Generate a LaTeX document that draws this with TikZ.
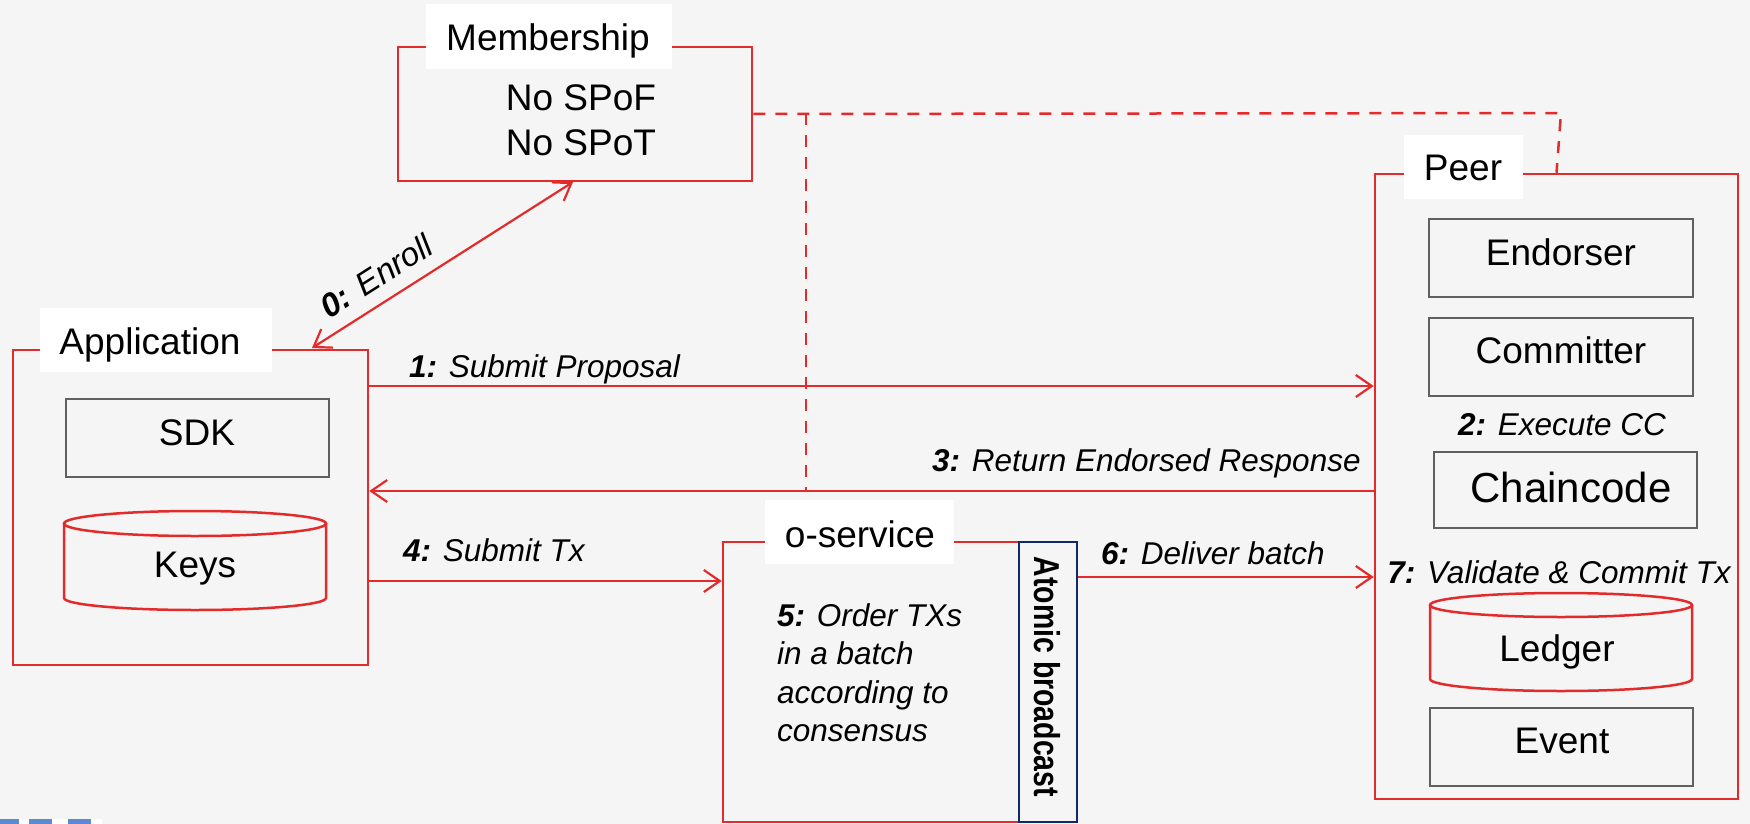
\documentclass[tikz,border=0pt]{standalone}
\usepackage{fontspec}
\setmainfont{Liberation Sans}
\usetikzlibrary{arrows.meta,calc}
\definecolor{hlred}{HTML}{E32B2B}
\definecolor{boxgray}{HTML}{606060}
\definecolor{navy}{HTML}{0F2A66}
\definecolor{bg}{HTML}{F5F5F5}
\definecolor{logoblue}{HTML}{5B8AD0}
\newcommand\fsbox{\fontsize{37}{44}\selectfont}
\newcommand\fslab{\fontsize{31.5}{38.5}\selectfont}
\newcommand\fsbig{\fontsize{42}{50}\selectfont}

\begin{document}
\begin{tikzpicture}[x=1pt,y=-1pt,
  redbox/.style={draw=hlred, line width=2.5pt, inner sep=0pt},
  graybox/.style={draw=boxgray, line width=2pt, inner sep=0pt},
  navybox/.style={draw=navy, line width=2pt, inner sep=0pt},
  tag/.style={fill=white, inner sep=0pt},
  txt/.style={font=\fsbox, inner sep=0pt},
  lab/.style={font=\fslab\itshape, inner sep=0pt},
  barb/.tip={Straight Barb[length=16pt,width=22pt,line width=2.2pt]},
  flow/.style={draw=hlred, line width=2.2pt, -barb},
  flowboth/.style={draw=hlred, line width=2.2pt, barb-barb},
  link/.style={draw=hlred, line width=2.5pt, dash pattern=on 12pt off 10pt},
  cyl/.style={draw=hlred, line width=2.5pt},
]
% canvas
\fill[bg] (0,0) rectangle (1750,824);
\useasboundingbox (0,0) rectangle (1750,824);

% outer boxes
\node[redbox, minimum width=354pt, minimum height=134pt] (member) at (575,114) {};
\node[redbox, minimum width=355pt, minimum height=315pt] (app) at (190.5,507.5) {};
\node[redbox, minimum width=354pt, minimum height=280pt] (osvc) at (900,682) {};
\node[navybox, minimum width=58pt, minimum height=280pt] (atomic) at (1048,682) {};
\node[redbox, minimum width=363pt, minimum height=625pt] (peer) at (1556.5,486.5) {};

% white title tabs
\node[tag, minimum width=246pt, minimum height=65pt] (memtag) at (549,36.5) {};
\node[tag, minimum width=232pt, minimum height=64pt] (apptag) at (156,340) {};
\node[tag, minimum width=189pt, minimum height=64pt] (osvctag) at (859.5,532) {};
\node[tag, minimum width=119pt, minimum height=64pt] (peertag) at (1463.5,167) {};

% titles
\node[txt, anchor=base] (memlbl) at (548,51) {Membership};
\node[txt, anchor=base] (applbl) at (150,354) {Application};
\node[txt, anchor=base] (osvclbl) at (860,547) {o-service};
\node[txt, anchor=base] (peerlbl) at (1463,180) {Peer};

% membership body
\node[txt, anchor=base] (spof) at (581,111)
  {\begin{tabular}[t]{@{}c@{}}No SPoF\\No SPoT\end{tabular}};

% application parts
\node[graybox, minimum width=263pt, minimum height=78pt] (sdk) at (197.5,438) {};
\node[txt, anchor=base] (sdklbl) at (197,445) {SDK};
\draw[cyl] (64,523.5) -- (64,598) arc[start angle=180, end angle=0, x radius=131, y radius=12] -- (326,523.5);
\draw[cyl] (195,523.5) ellipse[x radius=131, y radius=12.5];
\node[txt, anchor=base] (keys) at (195,577) {Keys};

% peer parts
\node[graybox, minimum width=264pt, minimum height=78pt] (endorser) at (1561,258) {};
\node[txt, anchor=base] (endlbl) at (1561,265) {Endorser};
\node[graybox, minimum width=264pt, minimum height=78pt] (committer) at (1561,357) {};
\node[txt, anchor=base] (comlbl) at (1561,363) {Committer};
\node[lab, anchor=base] (step2) at (1562,435) {\textbf{2:} Execute CC};
\node[graybox, minimum width=263pt, minimum height=76pt] (chaincode) at (1565.5,490) {};
\node[txt, font=\fsbig, anchor=base] (cclbl) at (1571,502) {Chaincode};
\node[lab, anchor=base] (step7) at (1559,583) {\textbf{7:} Validate \& Commit Tx};
\draw[cyl] (1430,605) -- (1430,679) arc[start angle=180, end angle=0, x radius=131, y radius=12] -- (1692,605);
\draw[cyl] (1561,605) ellipse[x radius=131, y radius=12];
\node[txt, anchor=base] (ledger) at (1557,661) {Ledger};
\node[graybox, minimum width=263pt, minimum height=78pt] (event) at (1561.5,747) {};
\node[txt, anchor=base] (evlbl) at (1562,753) {Event};

% ordering service body
\node[lab, anchor=base west] (step5) at (777,626)
  {\begin{tabular}[t]{@{}l@{}}\textbf{5:} Order TXs\\in a batch\\according to\\consensus\end{tabular}};
\node[inner sep=0pt, rotate=-90] (atomlbl) at (1047,677)
  {\scalebox{0.79}[1]{\fontsize{36}{40}\selectfont\bfseries Atomic broadcast}};

% rows of the message arrows
\coordinate (r1) at (0,386);
\coordinate (r3) at (0,491);
\coordinate (r4) at (0,581);
\coordinate (r6) at (0,577);

% trust links
\coordinate (dcorner) at (1561,113);
\coordinate (dtop) at (806,113);
\draw[link] (member.east) -- (dcorner) -- (peer.north);
\draw[link] (dtop) -- (dtop |- r3);

% message flow
\coordinate (enA) at (312,348);
\coordinate (enM) at (573,182);
\draw[flowboth] (enA) -- (enM)
  node[pos=0.30, sloped, above=13pt, lab, font=\fontsize{33}{40}\selectfont\itshape] (l0) {\textbf{0:} Enroll};
\draw[flow] (app.east |- r1) -- (peer.west |- r1);
\draw[flow] (peer.west |- r3) -- (app.east |- r3);
\draw[flow] (app.east |- r4) -- (osvc.west |- r4);
\draw[flow] (atomic.east |- r6) -- (peer.west |- r6);

\node[lab, anchor=base west] (l1) at (409,377) {\textbf{1:} Submit Proposal};
\node[lab, anchor=base west] (l3) at (932,471) {\textbf{3:} Return Endorsed Response};
\node[lab, anchor=base west] (l4) at (403,561) {\textbf{4:} Submit Tx};
\node[lab, anchor=base west] (l6) at (1101,564) {\textbf{6:} Deliver batch};

% corner logo fragment
\fill[white] (0,819) rectangle (102,824);
\fill[logoblue] (0,819) rectangle (19,824);
\fill[logoblue] (29,819) rectangle (52,824);
\fill[logoblue] (68,819) rectangle (91,824);
\end{tikzpicture}
\end{document}
